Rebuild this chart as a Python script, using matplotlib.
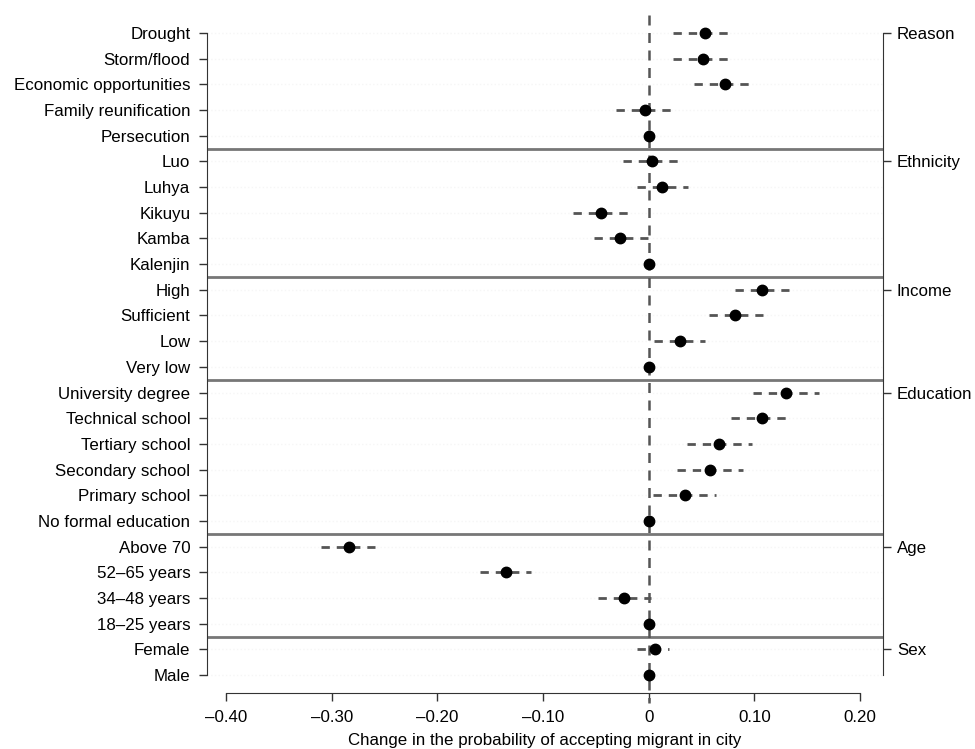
import matplotlib
matplotlib.use("Agg")
import matplotlib.pyplot as plt

plt.rcParams['font.family'] = ['Liberation Sans', 'DejaVu Sans']

labels = ["Drought", "Storm/flood", "Economic opportunities", "Family reunification", "Persecution",
          "Luo", "Luhya", "Kikuyu", "Kamba", "Kalenjin",
          "High", "Sufficient", "Low", "Very low",
          "University degree", "Technical school", "Tertiary school", "Secondary school",
          "Primary school", "No formal education",
          "Above 70", "52\u201365 years", "34\u201348 years", "18\u201325 years",
          "Female", "Male"]

# point estimates and 95% intervals
est = [0.053, 0.051, 0.072, -0.003, 0.0,
       0.003, 0.013, -0.045, -0.027, 0.0,
       0.107, 0.082, 0.030, 0.0,
       0.130, 0.107, 0.067, 0.058, 0.034, 0.0,
       -0.284, -0.135, -0.023, 0.0,
       0.006, 0.0]
lo = [0.023, 0.023, 0.043, -0.031, 0.0,
      -0.024, -0.011, -0.072, -0.052, 0.0,
      0.082, 0.057, 0.005, 0.0,
      0.099, 0.078, 0.036, 0.027, 0.004, 0.0,
      -0.310, -0.160, -0.048, 0.0,
      -0.011, 0.0]
hi = [0.079, 0.078, 0.097, 0.023, 0.0,
      0.029, 0.037, -0.020, -0.001, 0.0,
      0.133, 0.108, 0.053, 0.0,
      0.161, 0.131, 0.098, 0.089, 0.064, 0.0,
      -0.259, -0.111, 0.002, 0.0,
      0.019, 0.0]

groups = ["Reason", "Ethnicity", "Income", "Education", "Age", "Sex"]
group_start = [0, 5, 10, 14, 20, 24]

xticks = [-0.4, -0.3, -0.2, -0.1, 0.0, 0.1, 0.2]
xticklabels = ["\u20130.40", "\u20130.30", "\u20130.20", "\u20130.10", "0", "0.10", "0.20"]

fs = 12.2
fig = plt.figure(figsize=(9.75, 7.49), dpi=100)
ax = fig.add_axes([207 / 975, 1 - 693 / 749, (883 - 207) / 975, (693 - 15) / 749])

n = len(labels)
y = list(range(n))

# faint dotted row guides
for yi in y:
    ax.axhline(yi, color='#f6f6f6', lw=1, ls=':', zorder=0)

# separators between groups
for s in group_start[1:]:
    ax.axhline(s - 0.5, color='#777777', lw=2, zorder=1)

# vertical zero line
ax.plot([0, 0], [-0.7, 26.1], color='#555555', lw=1.8, ls=(0, (4, 3)), clip_on=False, zorder=2)

for yi, e, l, h in zip(y, est, lo, hi):
    if h > l:
        ax.plot([l, h], [yi, yi], color='#555555', lw=2, ls=(0, (3, 2.5)), zorder=3)
ax.plot(est, y, 'o', color='black', ms=7.5, zorder=4)

ax.set_xlim(-0.418, 0.2218)
ax.set_ylim(n - 1 + 0.7, -0.7)

ax.set_yticks(y)
ax.set_yticklabels(labels)
ax.set_xticks(xticks)
ax.set_xticklabels(xticklabels)
ax.set_xlabel("Change in the probability of accepting migrant in city", fontsize=fs, labelpad=6)

ax.spines['top'].set_visible(False)
ax.spines['right'].set_visible(False)
ax.spines['left'].set_bounds(0, n - 1)
ax.spines['bottom'].set_bounds(-0.4, 0.2)
ax.tick_params(axis='both', length=6, width=1, color='#333333', pad=6, labelsize=fs)
for sp in ['left', 'bottom']:
    ax.spines[sp].set_color('#333333')

ax2 = ax.twinx()
ax2.set_ylim(ax.get_ylim())
ax2.set_yticks(group_start)
ax2.set_yticklabels(groups)
ax2.spines['right'].set_bounds(0, n - 1)
ax2.spines['right'].set_color('#333333')
for sp in ['top', 'left', 'bottom']:
    ax2.spines[sp].set_visible(False)
ax2.tick_params(axis='y', length=6, width=1, color='#333333', pad=4, labelsize=fs)

fig.savefig("out.png", dpi=100)
